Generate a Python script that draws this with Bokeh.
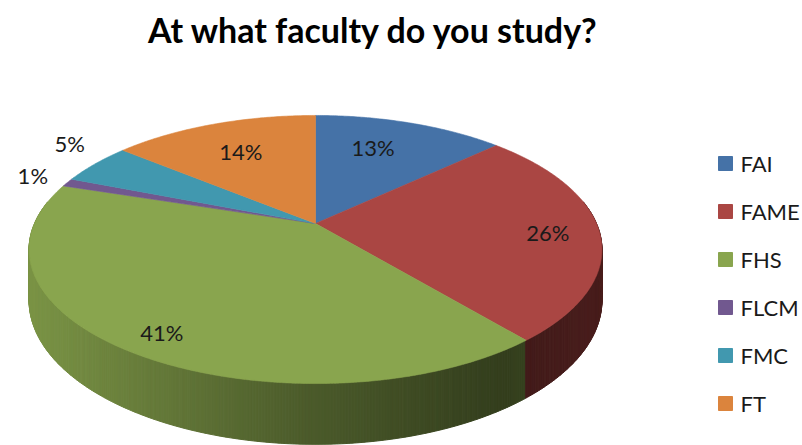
import numpy as np
from bokeh.plotting import figure
from bokeh.models import Range1d
from bokeh.core.properties import value
from bokeh.embed import file_html
from bokeh.resources import INLINE

# ---- data ----
categories = ["FAI", "FAME", "FHS", "FLCM", "FMC", "FT"]
percents = [13, 26, 41, 1, 5, 14]
labels = ["13%", "26%", "41%", "1%", "5%", "14%"]
colors = ["#4572A7", "#AA4643", "#89A54E", "#71588F", "#4198AF", "#DB843D"]
title_text = "At what faculty do you study?"

# ---- style / geometry (screen px) ----
CX, CY = 315, 223          # apex of the pie
A, B, K, DEPTH = 281, 129, 0.194, 49
label_r = [0.7, 0.82, 0.87, 1.15, 1.15, 0.7]
label_dx = [-12, 0, 6, 0, 4, 0]
label_dy = [-2, 2, 1, -1, -12, 1]
shade_x = [28, 300, 500, 600]
shade_f = [0.90, 0.56, 0.38, 0.43]

FONT = "Lato"
W, H = 802, 445


def proj(r, th_deg):
    th = np.radians(th_deg)
    u = r * np.cos(th)
    v = r * np.sin(th)
    s = 1.0 / (1.0 + K * v)
    return CX + A * u * s, CY - B * v * s, s


def hexrgb(h):
    h = h.lstrip("#")
    return tuple(int(h[i:i + 2], 16) for i in (0, 2, 4))


def shade(h, f):
    r, g, b = hexrgb(h)
    return "#%02x%02x%02x" % tuple(int(max(0, min(255, c * f))) for c in (r, g, b))


total = float(sum(percents))
starts, ends = [], []
a = 90.0
for pct in percents:
    starts.append(a)
    a -= pct / total * 360.0
    ends.append(a)
cum = np.cumsum([0] + [p / total * 360.0 for p in percents])


def slice_of(th):
    off = (90.0 - th) % 360.0
    for i in range(len(percents)):
        if cum[i] <= off < cum[i + 1]:
            return i
    return len(percents) - 1


p = figure(width=W, height=H, output_backend="svg", toolbar_location=None,
           x_range=Range1d(0, W), y_range=Range1d(H, 0), min_border=0)
p.axis.visible = False
p.grid.visible = False
p.outline_line_color = None
p.background_fill_color = "white"
p.border_fill_color = "white"

# ---- side wall ----
xs, ys, cs = [], [], []
step = 0.5
t = -190.0
while t < 10.0:
    t0, t1 = t, t + step
    x0, y0, s0 = proj(1.0, t0)
    x1, y1, s1 = proj(1.0, t1)
    i = slice_of((t0 + t1) / 2)
    f = float(np.interp((x0 + x1) / 2, shade_x, shade_f))
    xs.append([x0, x1, x1, x0])
    ys.append([y0, y1, y1 + DEPTH * s1, y0 + DEPTH * s0])
    cs.append(shade(colors[i], f))
    t += step
p.patches(xs, ys, fill_color=cs, line_color=cs, line_width=1)

# ---- top face ----
for i in range(len(percents)):
    n = max(4, int(abs(starts[i] - ends[i]) / 0.5))
    th = np.linspace(starts[i], ends[i], n)
    px, py, _ = proj(1.0, th)
    px = np.concatenate([[CX], px])
    py = np.concatenate([[CY], py])
    p.patch(px, py, fill_color=colors[i], line_color=colors[i], line_width=0.6)

# ---- data labels ----
lx, ly = [], []
for i in range(len(percents)):
    mid = (starts[i] + ends[i]) / 2
    x, y, _ = proj(label_r[i], mid)
    lx.append(x + label_dx[i])
    ly.append(y + label_dy[i])
p.text(lx, ly, text=labels, text_font=value(FONT), text_font_size="22px",
       text_align="center", text_baseline="middle", text_color="#1a1a1a")

# ---- title ----
p.text([373], [29], text=[title_text], text_font=value(FONT), text_font_size="34px",
       text_font_style="bold", text_align="center", text_baseline="middle",
       text_color="#000000")

# ---- legend ----
leg_y = [163 + 48 * i for i in range(len(categories))]
p.scatter([725] * len(categories), leg_y, marker="square", size=14,
          fill_color=colors, line_color=colors)
p.text([740] * len(categories), leg_y, text=categories, text_font=value(FONT),
       text_font_size="22px", text_align="left", text_baseline="middle",
       text_color="#1a1a1a")

open("out.html", "w").write(file_html(p, INLINE))
